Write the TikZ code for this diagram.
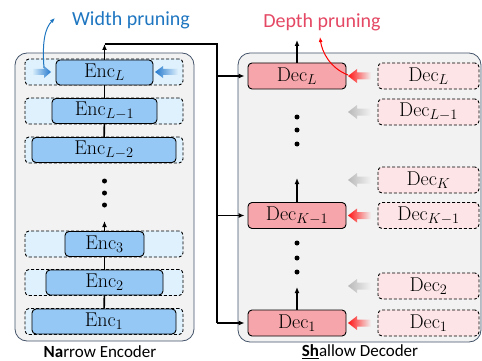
\documentclass[tikz,border=0pt]{standalone}
\usepackage{fontspec}
\setsansfont{Carlito}
\usetikzlibrary{arrows.meta}
\definecolor{panelgray}{RGB}{242,242,242}
\definecolor{panelborder}{RGB}{68,84,106}
\definecolor{encouter}{RGB}{222,241,252}
\definecolor{encinner}{RGB}{150,200,245}
\definecolor{decinner}{RGB}{246,166,170}
\definecolor{decouter}{RGB}{253,228,230}
\definecolor{wblue}{RGB}{30,118,192}
\definecolor{dred}{RGB}{228,72,100}
\definecolor{arrred}{RGB}{255,20,20}
\definecolor{arrgray}{RGB}{185,185,185}
\definecolor{arrblue}{RGB}{35,120,205}
\begin{document}
\begin{tikzpicture}[x=1pt,y=-1pt,
  panel/.style={draw=panelborder, fill=panelgray, line width=0.8pt, rounded corners=12pt},
  encout/.style={draw, dash pattern=on 3pt off 2pt, fill=encouter, rounded corners=4pt, minimum width=158pt, minimum height=26pt, inner sep=0pt, line width=0.9pt},
  encin/.style={draw, fill=encinner, rounded corners=4pt, minimum height=25pt, inner sep=0pt, line width=0.9pt, font=\fontsize{20}{20}\selectfont},
  decin/.style={draw, fill=decinner, rounded corners=4pt, minimum width=98pt, minimum height=26pt, inner sep=0pt, line width=0.9pt, font=\fontsize{20}{20}\selectfont},
  decout/.style={draw, dash pattern=on 3pt off 2pt, fill=decouter, rounded corners=4pt, minimum width=101pt, minimum height=26pt, inner sep=0pt, line width=0.9pt, font=\fontsize{20}{20}\selectfont},
  link/.style={line width=1.6pt},
  conn/.style={line width=1.6pt, -{Latex[length=6pt,width=5pt]}},
  dotst/.style={circle, fill, inner sep=0pt, minimum size=5pt},
  lbl/.style={font=\sffamily\fontsize{17}{17}\selectfont}
]
\useasboundingbox (0,0) rectangle (482,361);
% panels
\draw[panel] (15,53) rectangle (194,341);
\draw[panel] (238,53) rectangle (481,342);

% encoder rows
\foreach \n/\y in {6/72,5/111,4/150,3/244,2/282.5,1/321.5}{
  \node[encout] (o\n) at (104,\y) {};
}
\node[encin, minimum width=97pt]  (e6) at (104.5,72.5) {$\mathrm{Enc}_{L}$};
\node[encin, minimum width=105pt] (e5) at (104.5,111) {$\mathrm{Enc}_{L-1}$};
\node[encin, minimum width=144pt] (e4) at (104,150) {$\mathrm{Enc}_{L-2}$};
\node[encin, minimum width=79pt]  (e3) at (104.5,244) {$\mathrm{Enc}_{3}$};
\node[encin, minimum width=117pt] (e2) at (104.5,282.5) {$\mathrm{Enc}_{2}$};
\node[encin, minimum width=144pt] (e1) at (104,321.5) {$\mathrm{Enc}_{1}$};

% blue shaded arrows (width pruning)
\shade[left color=encouter, right color=arrblue] (32,69) -- (44,69) -- (44,66) -- (51,72) -- (44,78) -- (44,75) -- (32,75) -- cycle;
\shade[left color=arrblue, right color=encouter] (155,72) -- (163,66) -- (163,69) -- (178,69) -- (178,75) -- (163,75) -- (163,78) -- cycle;

% encoder links
\draw[link] (e1) -- (e2);
\draw[link] (e2) -- (e3);
\coordinate (e3top) at (104.5,221);
\draw[conn] (e3.north) -- (e3top);
\node[dotst] (ed1) at (104.5,181) {};
\node[dotst] (ed2) at (104.5,193) {};
\node[dotst] (ed3) at (104.5,205) {};
\draw[link] (e4) -- (e5);
\draw[link] (e5) -- (e6);
\coordinate (etop) at (104.5,44);
\draw[conn] (e6.north) -- (etop);

% decoder nodes
\node[decin] (dL) at (297,76) {$\mathrm{Dec}_{L}$};
\node[decin] (dK) at (297,215.5) {$\mathrm{Dec}_{K-1}$};
\node[decin] (d1) at (297,323) {$\mathrm{Dec}_{1}$};

\node[decout] (rL) at (428.5,76) {$\mathrm{Dec}_{L}$};
\node[decout] (rL1) at (428.5,112) {$\mathrm{Dec}_{L-1}$};
\node[decout] (rK) at (428.5,180) {$\mathrm{Dec}_{K}$};
\node[decout] (rK1) at (428.5,215.5) {$\mathrm{Dec}_{K-1}$};
\node[decout] (r2) at (428.5,286) {$\mathrm{Dec}_{2}$};
\node[decout] (r1) at (428.5,323) {$\mathrm{Dec}_{1}$};

% shaded arrows (depth pruning)
\foreach \y in {76,215.5,323}{
  \shade[left color=arrred, right color=panelgray] (348,\y) -- (357,\y-7) -- (357,\y-3.5) -- (371,\y-3.5) -- (371,\y+3.5) -- (357,\y+3.5) -- (357,\y+7) -- cycle;
}
\foreach \y in {112,180,286}{
  \shade[left color=arrgray, right color=panelgray] (348,\y) -- (357,\y-7) -- (357,\y-3.5) -- (371,\y-3.5) -- (371,\y+3.5) -- (357,\y+3.5) -- (357,\y+7) -- cycle;
}

% encoder -> decoder bus
\coordinate (bus) at (217,44);
\coordinate (busL) at (217,76);
\coordinate (busK) at (217,215.5);
\coordinate (bus1) at (217,323);
\draw[link] (etop) -- (bus) -- (bus1);
\draw[conn, shorten >=3pt] (busL) -- (dL.west);
\draw[conn, shorten >=3pt] (busK) -- (dK.west);
\draw[conn, shorten >=3pt] (bus1) -- (d1.west);

% decoder links
\coordinate (dLtop) at (297,40);
\draw[conn] (dL.north) -- (dLtop);
\node[dotst] (dd1) at (297,117) {};
\node[dotst] (dd2) at (297,130) {};
\node[dotst] (dd3) at (297,144) {};
\coordinate (dKtop) at (297,178);
\draw[conn] (dK.north) -- (dKtop);
\node[dotst] (dd4) at (297,243) {};
\node[dotst] (dd5) at (297,258) {};
\node[dotst] (dd6) at (297,272) {};
\coordinate (d1top) at (297,287);
\draw[conn] (d1.north) -- (d1top);

% titles
\node[font=\sffamily\fontsize{20}{20}\selectfont, text=wblue] (wp) at (131,20) {Width pruning};
\node[font=\sffamily\fontsize{20}{20}\selectfont, text=dred] (dp) at (322,22) {Depth pruning};
\coordinate (wpS) at (44,68);
\coordinate (wpE) at (55,18);
\draw[wblue, line width=1pt, -{Latex[length=5pt,width=4pt]}] (wpS) .. controls (42,42) and (45,28) .. (wpE);
\coordinate (dpS) at (348,75);
\coordinate (dpE) at (320,37);
\draw[red, line width=1pt, -{Latex[length=5pt,width=4pt]}] (dpS) .. controls (330,68) and (322,52) .. (dpE);

% bottom labels
\node[lbl] (encl) at (100,352) {\textbf{Na}rrow Encoder};
\node[lbl] (decl) at (360,352) {\underline{\textbf{Sh}}allow Decoder};
\end{tikzpicture}
\end{document}
